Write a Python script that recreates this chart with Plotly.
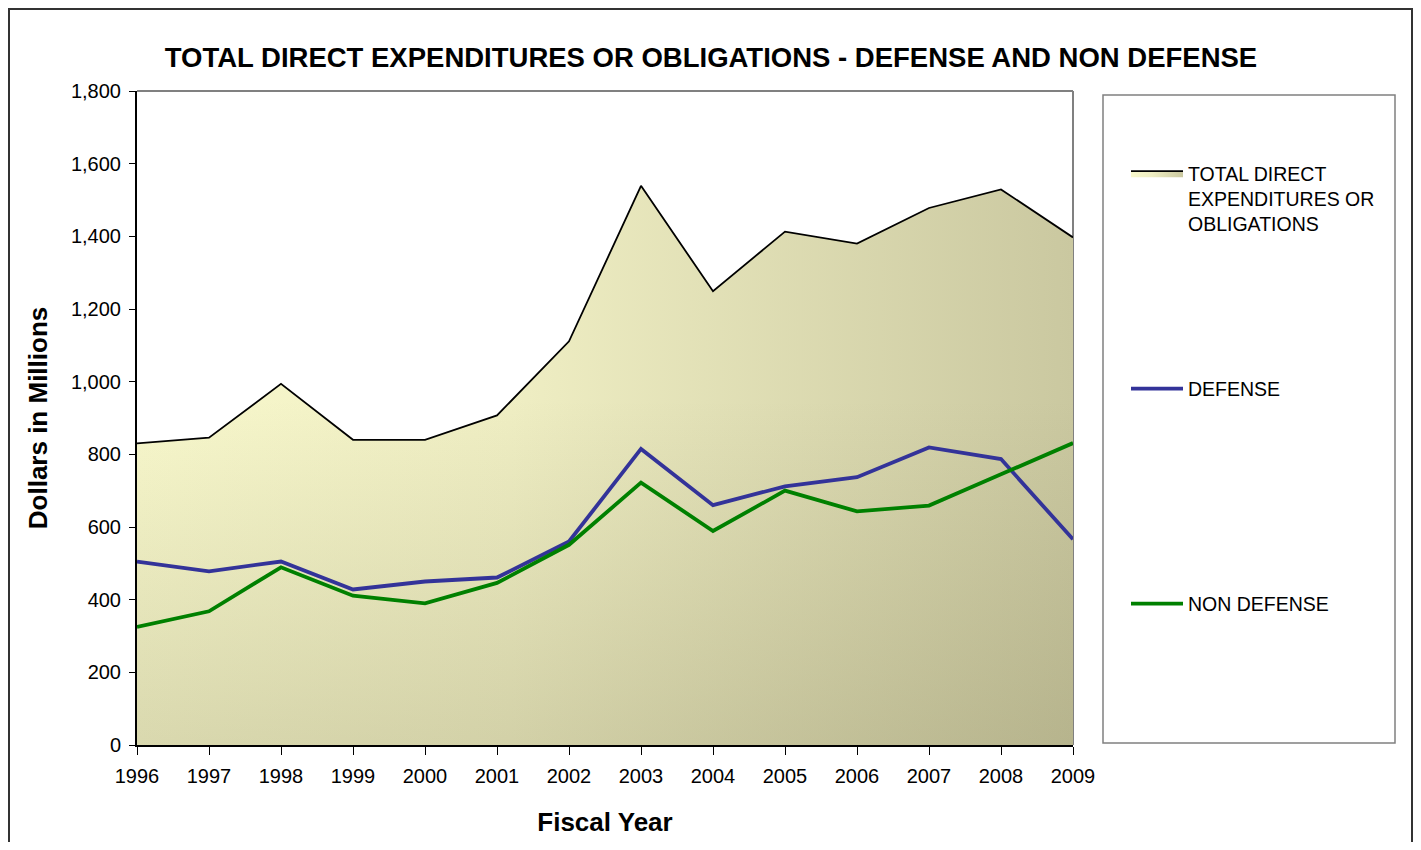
import plotly.graph_objects as go

years = [1996, 1997, 1998, 1999, 2000, 2001, 2002, 2003, 2004, 2005, 2006, 2007, 2008, 2009]
total = [830, 846, 994, 840, 840, 907, 1111, 1539, 1249, 1413, 1380, 1478, 1529, 1397]
defense = [505, 478, 505, 428, 450, 461, 560, 815, 660, 712, 737, 819, 787, 566]
non_defense = [325, 368, 489, 411, 390, 446, 551, 722, 589, 700, 643, 659, 745, 831]

title_text = "TOTAL DIRECT EXPENDITURES OR OBLIGATIONS - DEFENSE AND NON DEFENSE"
total_name = "TOTAL DIRECT<br>EXPENDITURES OR<br>OBLIGATIONS"
FONT = "Liberation Sans, Arial, sans-serif"

# the page has an 8px body margin; positions below are in reference-page pixels
OFF = 8
W, H = 1421 - 2 * OFF, 850 - 2 * OFF
L, R, T, B = 137 - OFF, 1073 - OFF, 91 - OFF, 745 - OFF


def px_x(px):
    return (px - OFF - L) / (R - L)


def px_y(py):
    return (B - (py - OFF)) / (B - T)


fig = go.Figure()

fig.add_trace(go.Scatter(
    x=years, y=total, name=total_name, mode="lines",
    line=dict(color="black", width=1.8),
    fill="tozeroy",
    fillgradient=dict(type="horizontal",
                      colorscale=[[0, "#F8F8CC"], [0.4, "#EFEEC3"], [1, "#CAC8A0"]]),
    legend="legend",
))
fig.add_trace(go.Scatter(
    x=years, y=total, mode="lines", showlegend=False, hoverinfo="skip",
    line=dict(width=0),
    fill="tozeroy",
    fillgradient=dict(type="vertical", start=0, stop=950,
                      colorscale=[[0, "rgba(120,116,80,0.24)"], [1, "rgba(120,116,80,0)"]]),
))
fig.add_trace(go.Scatter(
    x=years, y=defense, name="DEFENSE", mode="lines",
    line=dict(color="#333399", width=3.8),
    legend="legend2",
))
fig.add_trace(go.Scatter(
    x=years, y=non_defense, name="NON DEFENSE", mode="lines",
    line=dict(color="#008000", width=3.8),
    legend="legend3",
))

leg_common = dict(
    font=dict(family=FONT, size=19.5, color="black"),
    bgcolor="rgba(0,0,0,0)", borderwidth=0,
    itemwidth=52, xanchor="left", yanchor="middle", valign="top",
)

fig.update_layout(
    width=W, height=H,
    margin=dict(l=L, r=W - R, t=T, b=H - B, autoexpand=False),
    paper_bgcolor="white", plot_bgcolor="white",
    font=dict(family=FONT, color="black"),
    title=dict(text="<b>" + title_text + "</b>", x=(711 - OFF) / W, xanchor="center",
               y=1 - (57 - OFF) / H, yanchor="middle", yref="container",
               font=dict(family=FONT, size=27.5, color="black")),
    xaxis=dict(
        range=[years[0], years[-1]], tickmode="linear", tick0=years[0], dtick=1,
        showgrid=False, zeroline=False, showline=True, linecolor="black", linewidth=2,
        ticks="outside", ticklen=8, tickcolor="black", tickwidth=1,
        ticklabelstandoff=4,
        tickfont=dict(family=FONT, size=20, color="black"),
        title=dict(text="<b>Fiscal Year</b>", standoff=27,
                   font=dict(family=FONT, size=26, color="black")),
        automargin=False,
    ),
    yaxis=dict(
        range=[0, 1800], tickmode="linear", tick0=0, dtick=200, tickformat=",",
        showgrid=False, zeroline=False, showline=True, linecolor="black", linewidth=2,
        ticks="outside", ticklen=6, tickcolor="black", tickwidth=1,
        ticklabelstandoff=4,
        tickfont=dict(family=FONT, size=20, color="black"),
        title=dict(text="<b>Dollars in Millions</b>", standoff=16,
                   font=dict(family=FONT, size=26, color="black")),
        automargin=False,
    ),
    legend=dict(x=px_x(1126), y=px_y(199), **leg_common),
    legend2=dict(x=px_x(1126), y=px_y(389), **leg_common),
    legend3=dict(x=px_x(1126), y=px_y(604), **leg_common),
    shapes=[
        # plot area border (top and right)
        dict(type="line", xref="paper", yref="paper", x0=0, x1=1, y0=1, y1=1,
             line=dict(color="#808080", width=2)),
        dict(type="line", xref="paper", yref="paper", x0=1, x1=1, y0=0, y1=1,
             line=dict(color="#808080", width=2), layer="below"),
        # legend box
        dict(type="rect", xref="paper", yref="paper",
             x0=px_x(1103), x1=px_x(1395), y0=px_y(743), y1=px_y(95),
             line=dict(color="#808080", width=1.5)),
        # outer chart frame
        dict(type="rect", xref="paper", yref="paper",
             x0=px_x(9), x1=px_x(1412), y0=px_y(880), y1=px_y(9),
             line=dict(color="#333333", width=2)),
    ],
)

fig.write_html("out.html")
